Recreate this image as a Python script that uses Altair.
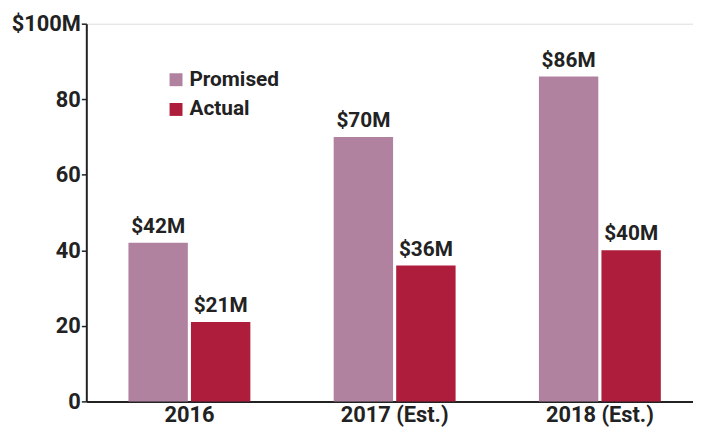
import altair as alt
import pandas as pd

years = ["2016", "2017 (Est.)", "2018 (Est.)"]
promised = [42, 70, 86]
actual = [21, 36, 40]
series = ["Promised", "Actual"]
colors = ["#b0829f", "#af1d3d"]

rows = []
for i, y in enumerate(years):
    rows.append({"year": y, "series": "Promised", "value": promised[i], "label": f"${promised[i]}M"})
    rows.append({"year": y, "series": "Actual", "value": actual[i], "label": f"${actual[i]}M"})
df = pd.DataFrame(rows)

FONT = "Roboto"

x = alt.X("year:N", sort=years, title=None,
          scale=alt.Scale(paddingInner=0.406, paddingOuter=0.181, align=0.567),
          axis=alt.Axis(labelAngle=0, ticks=False, domainColor="#222", domainWidth=2,
                        labelFont=FONT, labelFontSize=22, labelFontWeight="bold",
                        labelColor="#222", labelPadding=3))
y = alt.Y("value:Q", title=None,
          scale=alt.Scale(domain=[0, 100], nice=False),
          axis=alt.Axis(values=[0, 20, 40, 60, 80, 100], grid=False,
                        labelExpr="datum.value == 100 ? '$100M' : datum.label",
                        domainColor="#222", domainWidth=2, tickColor="#222", tickSize=5,
                        tickWidth=1.5, labelFont=FONT, labelFontSize=22, labelFontWeight="bold",
                        labelColor="#222", labelPadding=1))
xo = alt.XOffset("series:N", sort=series, scale=alt.Scale(paddingInner=0.05))
color = alt.Color("series:N", sort=series,
                  scale=alt.Scale(domain=series, range=colors),
                  legend=alt.Legend(title=None, orient="none", legendX=80, legendY=46,
                                    symbolType="square", symbolSize=170, symbolStrokeWidth=0,
                                    labelFont=FONT, labelFontSize=21, labelFontWeight="bold",
                                    labelColor="#222", rowPadding=8, labelOffset=3))

base = alt.Chart(df).encode(x=x, xOffset=xo)
bars = base.mark_bar(opacity=1).encode(y=y, color=color)
text = base.mark_text(baseline="bottom", dy=-6, font=FONT, fontSize=21,
                      fontWeight="bold", color="#222").encode(y="value:Q", text="label:N")

chart = (bars + text).properties(
    width=612, height=381,
    padding={"left": 3, "top": 3, "right": 0, "bottom": 0}
).configure_view(stroke=None).configure(background="white")

chart.save("out.html", embed_options={"renderer": "svg", "actions": False})
